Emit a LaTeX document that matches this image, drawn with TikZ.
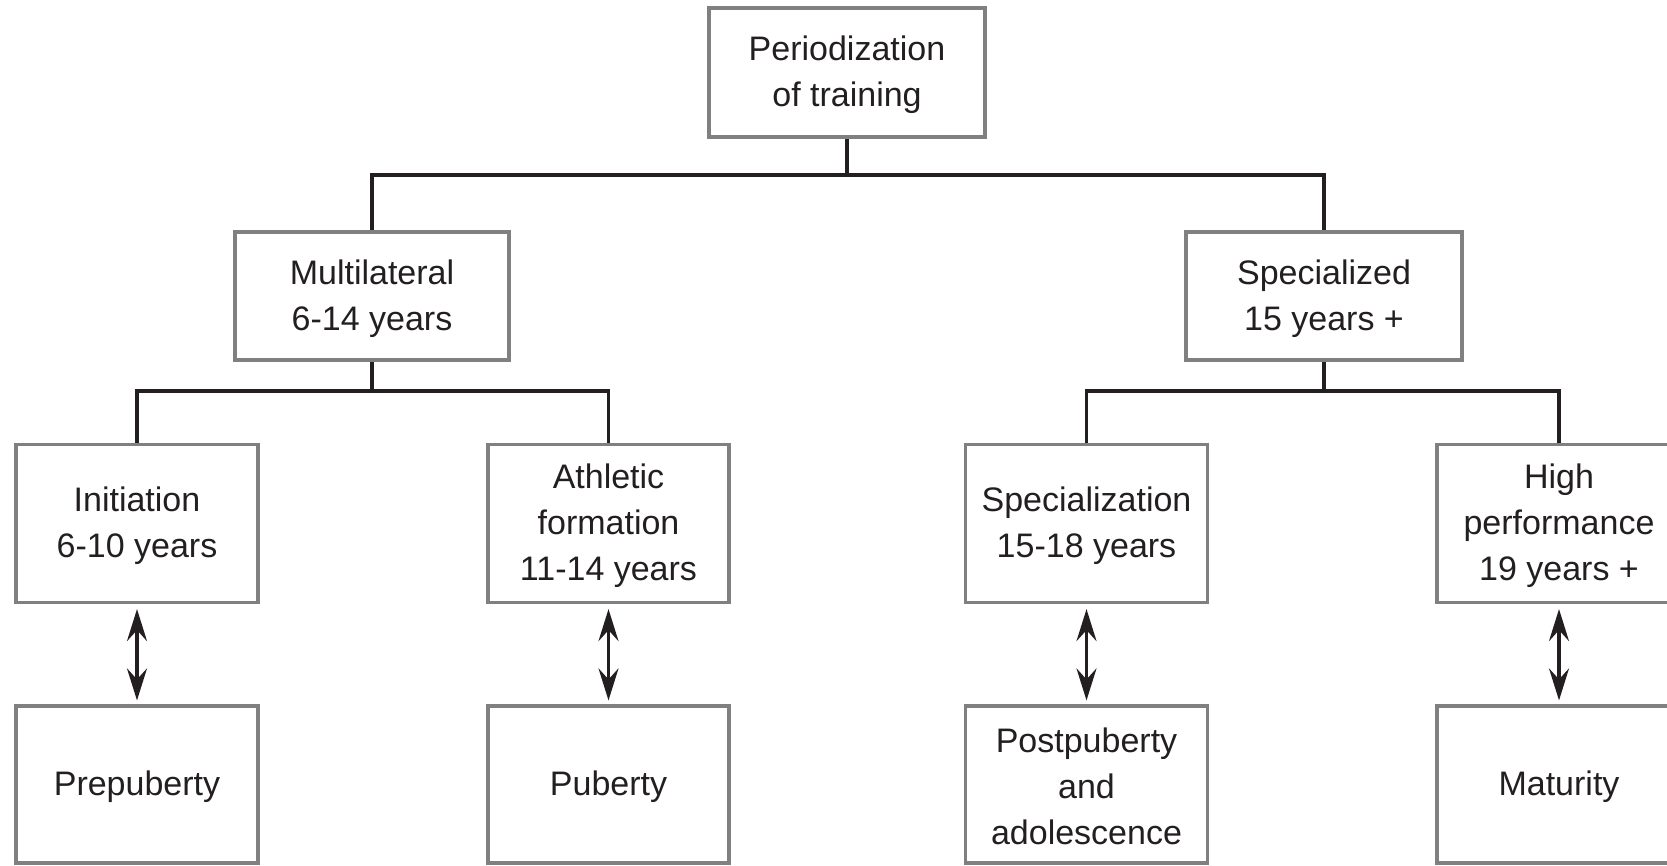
\documentclass[tikz,border=0pt]{standalone}
\usepackage{fontspec}
\setmainfont{Liberation Sans}
\usetikzlibrary{arrows.meta}
\definecolor{ink}{HTML}{231F20}
\definecolor{frame}{HTML}{808080}
\begin{document}
\begin{tikzpicture}[x=1pt,y=-1pt,
  box/.style={draw=frame, line width=3.2pt, fill=white, inner sep=0pt},
  boxtext/.style={text=ink, align=center, inner sep=0pt, font=\fontsize{34}{46}\selectfont},
  bus/.style={draw=ink, line width=3.4pt},
  link/.style={draw=ink, line width=3.2pt,
    {Stealth[length=32pt,width=20pt,inset=11pt]}-{Stealth[length=32pt,width=20pt,inset=11pt]},
    shorten <=5pt, shorten >=4pt}]
\useasboundingbox (0,0) rectangle (1667,865);
\clip (0,0) rectangle (1667,865);

% first and second levels
\node[box, minimum width=276pt, minimum height=129pt] (top) at (847,72.5) {};
\node[box, minimum width=274pt, minimum height=128pt] (multi) at (372,296) {};
\node[box, minimum width=276pt, minimum height=128pt] (spec) at (1324,296) {};

% stages
\node[box, minimum width=242pt, minimum height=158pt] (init) at (137,523.5) {};
\node[box, minimum width=241pt, minimum height=158pt] (ath) at (608.5,523.5) {};
\node[box, minimum width=242pt, minimum height=158pt] (specz) at (1086.5,523.5) {};
\node[box, minimum width=244pt, minimum height=158pt] (high) at (1559,523.5) {};

% developmental phases
\node[box, minimum width=242pt, minimum height=157pt] (pre) at (137,784.5) {};
\node[box, minimum width=241pt, minimum height=157pt] (pub) at (608.5,784.5) {};
\node[box, minimum width=242pt, minimum height=157pt] (post) at (1086.5,784.5) {};
\node[box, minimum width=244pt, minimum height=157pt] (mat) at (1559,784.5) {};

% box labels, set a little below the geometric centre
\node[boxtext] (topT) at ([yshift=-2.5pt]top.center) {Periodization\\of training};
\node[boxtext] (multiT) at ([yshift=-3pt]multi.center) {Multilateral\\6-14 years};
\node[boxtext] (specT) at ([yshift=-3pt]spec.center) {Specialized\\15 years +};
\node[boxtext] (initT) at ([yshift=-2pt]init.center) {Initiation\\6-10 years};
\node[boxtext] (athT) at ([yshift=-2pt]ath.center) {Athletic\\formation\\11-14 years};
\node[boxtext] (speczT) at ([yshift=-2pt]specz.center) {Specialization\\15-18 years};
\node[boxtext] (highT) at ([yshift=-2pt]high.center) {High\\performance\\19 years +};
\node[boxtext] (preT) at ([yshift=-2pt]pre.center) {Prepuberty};
\node[boxtext] (pubT) at ([yshift=-2pt]pub.center) {Puberty};
\node[boxtext] (postT) at ([yshift=-2pt]post.center) {Postpuberty\\and\\adolescence};
\node[boxtext] (matT) at ([yshift=-2pt]mat.center) {Maturity};

% tree connectors
\coordinate (busA) at (0,175);
\coordinate (busB) at (0,391);
\draw[bus] (top.south) -- (top.south |- busA);
\draw[bus] (multi.north) -- (multi.north |- busA) -- (spec.north |- busA) -- (spec.north);
\draw[bus] (multi.south) -- (multi.south |- busB);
\draw[bus] (init.north) -- (init.north |- busB) -- (ath.north |- busB) -- (ath.north);
\draw[bus] (spec.south) -- (spec.south |- busB);
\draw[bus] (specz.north) -- (specz.north |- busB) -- (high.north |- busB) -- (high.north);

% stage-to-phase correspondences
\draw[link] (init.south) -- (pre.north);
\draw[link] (ath.south) -- (pub.north);
\draw[link] (specz.south) -- (post.north);
\draw[link] (high.south) -- (mat.north);
\end{tikzpicture}
\end{document}
